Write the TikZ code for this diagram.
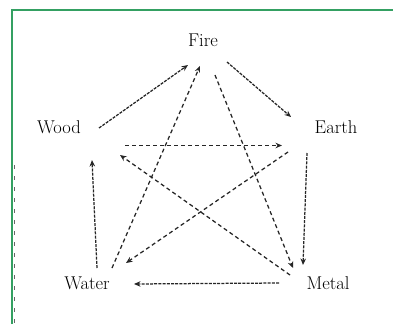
\documentclass[tikz,border=0pt]{standalone}
\usetikzlibrary{arrows.meta}
\definecolor{framegreen}{RGB}{52,160,98}
\begin{document}
\begin{tikzpicture}[x=1pt,y=-1pt,
  lbl/.style={font=\fontsize{18.5}{20}\selectfont, inner sep=0pt, text=black},
  gen/.style={draw=black!85, line width=1.25pt, dash pattern=on 3pt off 1.2pt,
              -{Stealth[length=6.5pt,width=5.5pt]}},
  ctl/.style={draw=black!85, line width=1.25pt, dash pattern=on 4pt off 3pt,
              -{Stealth[length=6.5pt,width=5.5pt]}},
  frame/.style={draw=framegreen, line width=2.2pt}]
\useasboundingbox (0,0) rectangle (393,324);
\fill[white] (0,0) rectangle (393,324);
\draw[frame] (12,324) -- (12,10) -- (393,10);
\draw[black!60, line width=1.3pt, dash pattern=on 4pt off 7pt] (14.8,165) -- (14.8,324);

% labels
\node[lbl] (fire)  at (203,40)  {Fire};
\node[lbl] (wood)  at (59,127)  {Wood};
\node[lbl] (earth) at (336,127) {Earth};
\node[lbl] (water) at (87,283)  {Water};
\node[lbl] (metal) at (328,283) {Metal};

% connector end points
\coordinate (woodA)  at (99,128);
\coordinate (fireA)  at (188,65);
\coordinate (fireB)  at (227,62);
\coordinate (earthA) at (291,117);
\coordinate (earthB) at (307,153);
\coordinate (metalA) at (303,265);
\coordinate (metalB) at (279,283);
\coordinate (waterA) at (134,284);
\coordinate (waterB) at (97,268);
\coordinate (woodB)  at (92,160);

\coordinate (fireC)  at (215,75);
\coordinate (metalC) at (293,268);
\coordinate (waterC) at (112,268);
\coordinate (fireD)  at (200,66);
\coordinate (woodC)  at (125,145.5);
\coordinate (earthC) at (282,145.5);
\coordinate (earthD) at (288,152);
\coordinate (waterD) at (126,263);
\coordinate (metalD) at (290,275);
\coordinate (woodD)  at (120,155);

% generating cycle
\draw[gen] (woodA) -- (fireA);
\draw[gen] (fireB) -- (earthA);
\draw[gen] (earthB) -- (metalA);
\draw[gen] (metalB) -- (waterA);
\draw[gen] (waterB) -- (woodB);

% controlling cycle
\draw[ctl] (fireC) -- (metalC);
\draw[ctl] (waterC) -- (fireD);
\draw[ctl] (woodC) -- (earthC);
\draw[ctl] (earthD) -- (waterD);
\draw[ctl] (metalD) -- (woodD);
\end{tikzpicture}
\end{document}
